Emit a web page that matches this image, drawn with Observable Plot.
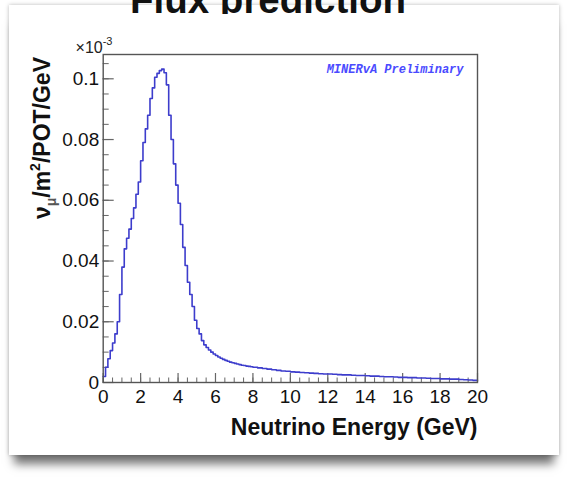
<!DOCTYPE html>
<html>
<head>
<meta charset="utf-8">
<script src="https://cdn.jsdelivr.net/npm/d3@7"></script>
<script src="https://cdn.jsdelivr.net/npm/@observablehq/plot@0.6"></script>
<style>
  html, body { margin: 0; padding: 0; background: #fff; }
  #page { position: relative; width: 568px; height: 478px; overflow: hidden; background: #fff; }
  #panel { position: absolute; left: 9px; top: 5px; width: 550px; height: 450px; background: #fff;
           box-shadow: 0 14px 9px -5px rgba(0,0,0,0.55), 0 0 4px rgba(0,0,0,0.28); }
  #titleclip { position: absolute; left: 0; top: 0; width: 568px; height: 14px; overflow: hidden; z-index: 3; }
  #title { position: absolute; left: 0; width: 536px; top: -19px; text-align: center;
           font: bold 38.5px "Liberation Sans", Arial, sans-serif; line-height: 38.5px; color: #111; }
  #chart { position: absolute; left: 0; top: 0; z-index: 2; }
</style>
</head>
<body>
<div id="page">
  <div id="panel"></div>
  <div id="titleclip"><div id="title">Flux prediction</div></div>
  <div id="chart"></div>
</div>
<script>
// Flux (×10^-3 ν_μ/m²/POT/GeV)
// fine bins: 0.125 GeV wide, 0 → 8 GeV
const fineWidth = 0.125;
const fluxFine = [
  0.0020, 0.0050, 0.0078, 0.0105, 0.0130, 0.0160, 0.0200, 0.0290,
  0.0380, 0.0440, 0.0475, 0.0505, 0.0540, 0.0575, 0.0620, 0.0660,
  0.0730, 0.0790, 0.0835, 0.0880, 0.0935, 0.0970, 0.1005, 0.1018,
  0.1027, 0.1032, 0.1020, 0.0980, 0.0880, 0.0800, 0.0720, 0.0650,
  0.0590, 0.0520, 0.0445, 0.0385, 0.0330, 0.0290, 0.0250, 0.0205,
  0.0178, 0.0160, 0.0138, 0.0124, 0.0115, 0.0107, 0.0100, 0.0094,
  0.0089, 0.0084, 0.0080, 0.0076, 0.0073, 0.0070, 0.0067, 0.0065,
  0.0063, 0.0061, 0.0059, 0.0057, 0.0056, 0.0054, 0.0053, 0.0052
];
// coarse bins: 0.25 GeV wide, 8 → 20 GeV
const coarseStart = 8, coarseWidth = 0.25;
const fluxCoarse = [
  0.0050, 0.0048, 0.0046, 0.0044, 0.0042, 0.0040, 0.0038, 0.0037,
  0.0035, 0.0034, 0.0033, 0.0032, 0.0031, 0.0030, 0.0029, 0.0028,
  0.0028, 0.0027, 0.0026, 0.0025, 0.0025, 0.0024, 0.0023, 0.0023,
  0.0022, 0.0021, 0.0021, 0.0020, 0.0019, 0.0019, 0.0018, 0.0017,
  0.0017, 0.0016, 0.0016, 0.0015, 0.0015, 0.0014, 0.0013, 0.0013,
  0.0012, 0.0012, 0.0011, 0.0011, 0.0010, 0.0009, 0.0008, 0.0007
];
const xMajor = [0, 2, 4, 6, 8, 10, 12, 14, 16, 18, 20];
const xMinor = d3.range(0, 20.001, 0.5);
const yMajor = [0, 0.02, 0.04, 0.06, 0.08, 0.1];
const yMinor = d3.range(0, 0.1081, 0.005);
const xDomain = [0, 20];
const yDomain = [0, 0.108];
const xTitle = "Neutrino Energy (GeV)";
const watermark = "MINERvA Preliminary";

const steps = [
  ...fluxFine.map((v, i) => ({e: i * fineWidth, v})),
  ...fluxCoarse.map((v, i) => ({e: coarseStart + i * coarseWidth, v}))
];
steps.push({e: xDomain[1], v: fluxCoarse[fluxCoarse.length - 1]});

const W = 568, H = 478;
const mL = 102.7, mR = 91, mT = 54, mB = 96;
const plotW = W - mL - mR, plotH = H - mT - mB;
const font = '"Liberation Sans", Arial, Helvetica, sans-serif';

const yTitleMark = () => {
  const g = d3.create("svg:g");
  const t = g.append("text")
    .attr("transform", "translate(50,57) rotate(-90)")
    .attr("text-anchor", "end")
    .attr("font-family", font)
    .attr("font-weight", "bold")
    .attr("font-size", 23)
    .attr("fill", "#111");
  t.append("tspan").text("ν");
  t.append("tspan").attr("font-size", 14).attr("dy", 6).attr("fill", "#555").text("μ");
  t.append("tspan").attr("dy", -6).text("/m");
  t.append("tspan").attr("font-size", 14).attr("dy", -10).text("2");
  t.append("tspan").attr("dy", 10).text("/POT/GeV");
  const s = g.append("text")
    .attr("x", 94).attr("y", 53)
    .attr("font-family", font)
    .attr("font-size", 16)
    .attr("fill", "#222");
  s.append("tspan").text("×10");
  s.append("tspan").attr("font-size", 11).attr("dy", -8).text("-3");
  return g.node();
};

const chart = Plot.plot({
  width: W, height: H,
  marginLeft: mL, marginRight: mR, marginTop: mT, marginBottom: mB,
  style: {background: "transparent", fontFamily: font},
  x: {domain: xDomain},
  y: {domain: yDomain},
  marks: [
    Plot.tickX(xMinor, {x: d => d, insetTop: plotH - 4.5, stroke: "#666", strokeWidth: 1}),
    Plot.tickX(xMajor, {x: d => d, insetTop: plotH - 9, stroke: "#666", strokeWidth: 1.2}),
    Plot.tickY(yMinor, {y: d => d, insetRight: plotW - 6, stroke: "#666", strokeWidth: 1}),
    Plot.tickY(yMajor, {y: d => d, insetRight: plotW - 11, stroke: "#666", strokeWidth: 1.2}),
    Plot.axisX(xMajor, {tickSize: 0, tickPadding: 7, fontSize: 19, fill: "#111", label: null}),
    Plot.axisY(yMajor, {tickSize: 0, tickPadding: 4, fontSize: 19, fill: "#111", label: null,
                        tickFormat: d => d === 0 ? "0" : String(+d.toFixed(2))}),
    Plot.line(steps, {x: "e", y: "v", curve: "step-after", stroke: "#3d3dcc", strokeWidth: 1.6}),
    Plot.frame({stroke: "#555", strokeWidth: 1.4}),
    Plot.text([xTitle], {frameAnchor: "bottom-right", dy: 52, textAnchor: "end", fontSize: 23,
                         fontWeight: "bold", fill: "#111"}),
    Plot.text([watermark], {frameAnchor: "top-right", dx: -14, dy: 10, textAnchor: "end",
                            fontSize: 12, fontWeight: "bold", fontStyle: "italic",
                            fontFamily: '"Liberation Mono", "DejaVu Sans Mono", monospace', fill: "#4a4aff"}),
    yTitleMark
  ]
});
document.getElementById("chart").appendChild(chart);
</script>
</body>
</html>
